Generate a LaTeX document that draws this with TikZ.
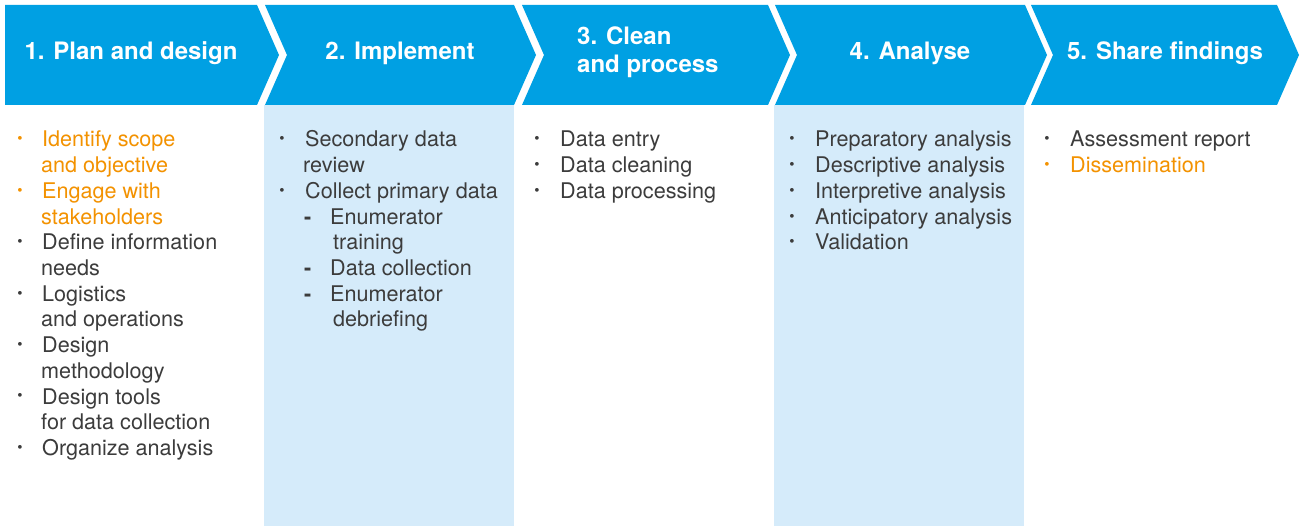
\documentclass[tikz,border=0pt]{standalone}
\usepackage{fontspec}
\setmainfont{TeX Gyre Heros}
\definecolor{chev}{RGB}{0,160,227}
\definecolor{pale}{RGB}{213,235,250}
\definecolor{orng}{RGB}{243,146,0}
\definecolor{txt}{RGB}{60,60,60}
\tikzset{
  chevfill/.style={fill=chev, draw=none},
  palecol/.style={fill=pale, draw=none},
  head/.style={text=white, font=\fontsize{24}{28}\selectfont\bfseries, inner sep=0pt, anchor=base},
  headl/.style={head, anchor=base west},
  body/.style={text=txt, font=\fontsize{21.6}{26}\selectfont, inner sep=0pt, anchor=base west},
  bul/.style={text=txt, font=\fontsize{15}{15}\selectfont, inner sep=0pt, anchor=center},
  hl/.style={text=orng},
}
\begin{document}
\begin{tikzpicture}[x=1pt,y=-1pt]
\useasboundingbox (0,0) rectangle (1301,526);
\fill[white] (0,0) rectangle (1301,526);
% pale columns
\fill[palecol] (264,105) rectangle (514,526);
\fill[palecol] (774,105) rectangle (1024,526);
% chevrons
\fill[chevfill] (5,5) -- (257,5) -- (279,55) -- (257,105) -- (5,105) -- cycle;
\fill[chevfill] (265,5) -- (514,5) -- (536,55) -- (514,105) -- (265,105) -- (287,55) -- cycle;
\fill[chevfill] (522,5) -- (768,5) -- (790,55) -- (768,105) -- (522,105) -- (544,55) -- cycle;
\fill[chevfill] (775,5) -- (1025,5) -- (1047,55) -- (1025,105) -- (775,105) -- (797,55) -- cycle;
\fill[chevfill] (1031,5) -- (1277,5) -- (1299,55) -- (1277,105) -- (1031,105) -- (1053,55) -- cycle;
% headings
\node[head] (h1) at (131,60) {1. Plan and design};
\node[head] (h2) at (400,60) {2. Implement};
\node[headl] (h3a) at (577,45) {3. Clean};
\node[headl] (h3b) at (577,73) {and process};
\node[head] (h4) at (910,60) {4. Analyse};
\node[head] (h5) at (1165,60) {5. Share findings};
% column 1
\node[bul,hl] (b11) at (20,140.4) {•};
\node[body,hl] (t11a) at (42,147) {Identify scope};
\node[body,hl] (t11b) at (41,172.7) {and objective};
\node[bul,hl] (b12) at (20,191.8) {•};
\node[body,hl] (t12a) at (42,198.4) {Engage with};
\node[body,hl] (t12b) at (41,224.1) {stakeholders};
\node[bul] (b13) at (20,243.2) {•};
\node[body] (t13a) at (42,249.8) {Define information};
\node[body] (t13b) at (41,275.5) {needs};
\node[bul] (b14) at (20,294.6) {•};
\node[body] (t14a) at (42,301.2) {Logistics};
\node[body] (t14b) at (41,326.9) {and operations};
\node[bul] (b15) at (20,346) {•};
\node[body] (t15a) at (42,352.6) {Design};
\node[body] (t15b) at (41,378.3) {methodology};
\node[bul] (b16) at (20,397.4) {•};
\node[body] (t16a) at (42,404) {Design tools};
\node[body] (t16b) at (41,429.7) {for data collection};
\node[bul] (b17) at (20,448.8) {•};
\node[body] (t17a) at (42,455.4) {Organize analysis};
% column 2
\node[bul] (b21) at (282,140.4) {•};
\node[body] (t21a) at (305,147) {Secondary data};
\node[body] (t21b) at (303,172.7) {review};
\node[bul] (b22) at (282,191.8) {•};
\node[body] (t22a) at (305,198.4) {Collect primary data};
\node[body] (d23) at (304,224.1) {\textbf{-}};
\node[body] (t23a) at (330,224.1) {Enumerator};
\node[body] (t23b) at (333,249.8) {training};
\node[body] (d24) at (304,275.5) {\textbf{-}};
\node[body] (t24a) at (330,275.5) {Data collection};
\node[body] (d25) at (304,301.2) {\textbf{-}};
\node[body] (t25a) at (330,301.2) {Enumerator};
\node[body] (t25b) at (333,326.9) {debriefing};
% column 3
\node[bul] (b31) at (537,140.4) {•};
\node[body] (t31) at (560,147) {Data entry};
\node[bul] (b32) at (537,166.1) {•};
\node[body] (t32) at (560,172.7) {Data cleaning};
\node[bul] (b33) at (537,191.8) {•};
\node[body] (t33) at (560,198.4) {Data processing};
% column 4
\node[bul] (b41) at (792,140.4) {•};
\node[body] (t41) at (815,147) {Preparatory analysis};
\node[bul] (b42) at (792,166.1) {•};
\node[body] (t42) at (815,172.7) {Descriptive analysis};
\node[bul] (b43) at (792,191.8) {•};
\node[body] (t43) at (815,198.4) {Interpretive analysis};
\node[bul] (b44) at (792,217.5) {•};
\node[body] (t44) at (815,224.1) {Anticipatory analysis};
\node[bul] (b45) at (792,243.2) {•};
\node[body] (t45) at (815,249.8) {Validation};
% column 5
\node[bul] (b51) at (1047,140.4) {•};
\node[body] (t51) at (1070,147) {Assessment report};
\node[bul,hl] (b52) at (1047,166.1) {•};
\node[body,hl] (t52) at (1070,172.7) {Dissemination};
\end{tikzpicture}
\end{document}
